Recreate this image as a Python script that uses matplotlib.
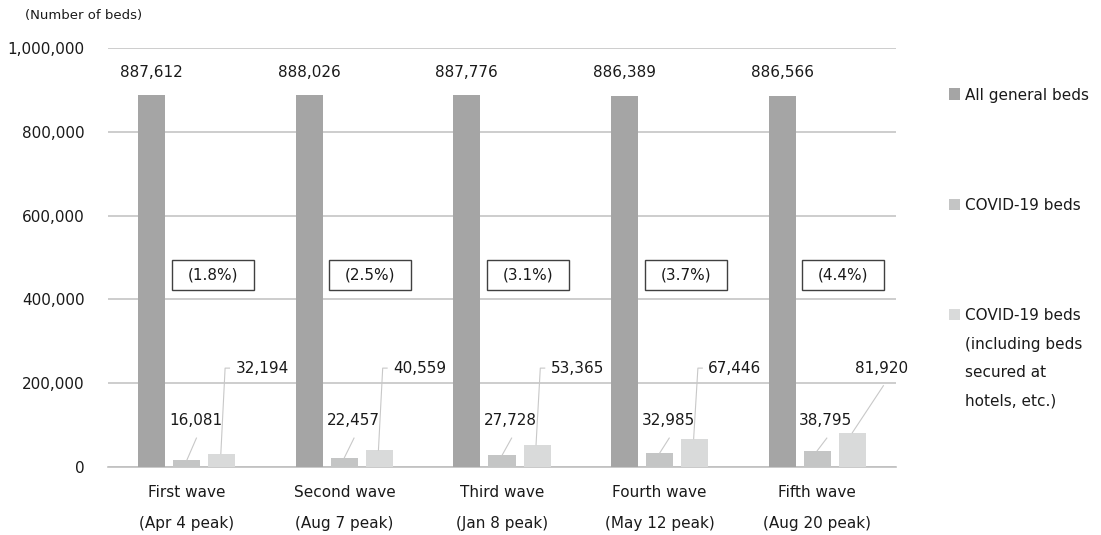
import matplotlib
matplotlib.use("Agg")
import matplotlib.pyplot as plt
from matplotlib.patches import Rectangle
import numpy as np

# Data
waves = ["First wave", "Second wave", "Third wave", "Fourth wave", "Fifth wave"]
peaks = ["(Apr 4 peak)", "(Aug 7 peak)", "(Jan 8 peak)", "(May 12 peak)", "(Aug 20 peak)"]
all_beds = [887612, 888026, 887776, 886389, 886566]
covid_beds = [16081, 22457, 27728, 32985, 38795]
covid_beds_incl_hotels = [32194, 40559, 53365, 67446, 81920]

series_names = [
    "All general beds",
    "COVID-19 beds",
    "COVID-19 beds\n(including beds\nsecured at\nhotels, etc.)",
]
colors = ["#A5A5A5", "#C4C5C5", "#D9DADA"]

FS = 11
plt.rcParams["font.family"] = ["DejaVu Sans"]
plt.rcParams["text.color"] = "#1A1A1A"

W, H = 1101, 535
fig = plt.figure(figsize=(W / 100, H / 100), dpi=100)
ax = fig.add_axes([108 / W, 68 / H, 788 / W, 419 / H])

x = np.arange(len(waves))
bw = 0.172
off = 0.223
ax.bar(x - off, all_beds, bw, color=colors[0], zorder=3)
ax.bar(x, covid_beds, bw, color=colors[1], zorder=3)
ax.bar(x + off, covid_beds_incl_hotels, bw, color=colors[2], zorder=3)

ax.set_xlim(-0.5, len(waves) - 0.5)
ax.set_ylim(0, 1_000_000)
ax.set_yticks(np.arange(0, 1_000_001, 200_000))
ax.yaxis.set_major_formatter(lambda v, p: f"{int(v):,}")
ax.grid(axis="y", color="#C0C0C0", lw=1.1, zorder=0)
ax.set_axisbelow(True)
for s in ["top", "right", "left"]:
    ax.spines[s].set_visible(False)
ax.spines["bottom"].set_color("#C0C0C0")
ax.spines["bottom"].set_linewidth(1.2)
ax.tick_params(axis="both", length=0, labelsize=FS, labelcolor="#1A1A1A")
ax.tick_params(axis="y", pad=17)
ax.tick_params(axis="x", pad=13)
ax.set_xticks(x, [f"{a}\n{b}" for a, b in zip(waves, peaks)], linespacing=2.3)

leader = dict(color="#C8C8C8", lw=0.8, zorder=4)

# Labels on the tall bars
for xi, v in zip(x, all_beds):
    ax.annotate(f"{v:,}", (xi - off, v), xytext=(0, 16.5), textcoords="offset points",
                ha="center", va="center", fontsize=FS)

# Labels for COVID-19 beds with short leader lines
lab_y = 110_000
for xi, v in zip(x, covid_beds):
    tx = xi + 0.055
    ax.text(tx, lab_y, f"{v:,}", ha="center", va="center", fontsize=FS, zorder=5)
    ax.plot([tx + 0.006, xi], [69_000, v], **leader)

# Labels for COVID-19 beds incl. hotels
hot_y = 236_000
for i, (xi, v) in enumerate(zip(x, covid_beds_incl_hotels)):
    bx = xi + off
    if i < len(x) - 1:
        ax.plot([bx - 0.007, bx + 0.02, bx + 0.048], [v, hot_y, hot_y], **leader)
        ax.text(bx + 0.085, hot_y, f"{v:,}", ha="left", va="center", fontsize=FS, zorder=5)
    else:
        ax.plot([bx, bx + 0.197], [v, 194_000], **leader)
        ax.text(bx + 0.187, hot_y, f"{v:,}", ha="center", va="center", fontsize=FS, zorder=5)

# Share of COVID-19 beds in boxes
box_w, box_h, box_y = 0.52, 71_600, 458_000
for xi, c, a in zip(x, covid_beds, all_beds):
    cx = xi + 0.165
    ax.add_patch(Rectangle((cx - box_w / 2, box_y - box_h / 2), box_w, box_h,
                           facecolor="white", edgecolor="#404040", lw=1.0, zorder=5))
    ax.text(cx, box_y, f"({c / a * 100:.1f}%)", ha="center", va="center",
            fontsize=FS, zorder=6)

# Legend on the right
leg_y = [94, 204, 314]
for name, col, yp in zip(series_names, colors, leg_y):
    fig.patches.append(Rectangle((949 / W, 1 - (yp + 5.5) / H), 11 / W, 11 / H,
                                 facecolor=col, edgecolor="none",
                                 transform=fig.transFigure, figure=fig))
    fig.text(965 / W, 1 - (yp - 6) / H, name, ha="left", va="top",
             fontsize=FS, linespacing=2.13)

fig.text(25 / W, 1 - 15 / H, "(Number of beds)", ha="left", va="center", fontsize=9.5)

fig.savefig("out.png", dpi=100)
